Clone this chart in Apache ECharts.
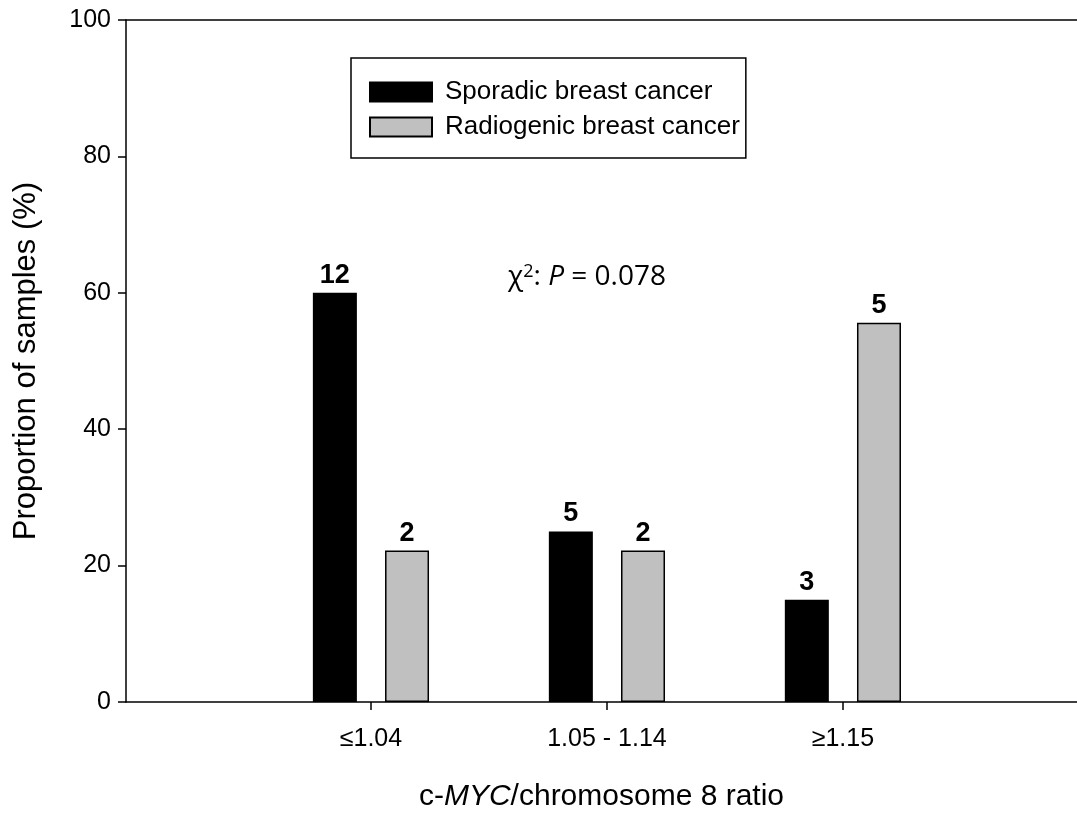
<!DOCTYPE html>
<html>
<head>
<meta charset="utf-8">
<script src="https://cdn.jsdelivr.net/npm/echarts@6/dist/echarts.min.js"></script>
<style>
  html, body { margin: 0; padding: 0; background: #fff; }
  #chart { width: 1077px; height: 814px; }
</style>
</head>
<body>
<div id="chart"></div>
<script>
// Ratio groups on the x axis (placed at positions 1, 2, 3)
const categories = ['\u22641.04', '1.05 - 1.14', '\u22651.15'];
const categoryPositions = [1, 2, 3];

// Proportion of samples (%) in each group
const sporadicPct = [60, 25, 15];
const radiogenicPct = [22.2, 22.2, 55.6];

// Sample counts written above the bars
const sporadicCounts = [12, 5, 3];
const radiogenicCounts = [2, 2, 5];

const yTicks = [0, 20, 40, 60, 80, 100];

const FONT = '"Liberation Sans", Arial, sans-serif';
const ANNOT_FONT = '"Open Sans", sans-serif';

function pairs(values) {
  return values.map((v, i) => [categoryPositions[i], v]);
}

const chart = echarts.init(document.getElementById('chart'), null, { renderer: 'canvas' });

const barLabel = (counts) => ({
  show: true,
  position: 'top',
  distance: 4,
  color: '#000',
  fontFamily: FONT,
  fontWeight: 'bold',
  fontSize: 27,
  formatter: (p) => String(counts[p.dataIndex])
});

const axisLineStyle = { color: '#000', width: 1.5 };

chart.setOption({
  animation: false,
  backgroundColor: '#fff',
  grid: { left: 126, right: 0, top: 20, bottom: 112, containLabel: false, outerBoundsMode: 'none' },
  legend: {
    orient: 'vertical',
    left: 351, top: 58,
    padding: [21, 6, 18, 18],
    itemWidth: 62, itemHeight: 19, itemGap: 9,
    borderColor: '#000', borderWidth: 1.5,
    icon: 'rect',
    textStyle: { fontFamily: FONT, fontSize: 26, color: '#000', padding: [0, 0, 0, 8] },
    data: ['Sporadic breast cancer', 'Radiogenic breast cancer']
  },
  xAxis: [{
    type: 'value',
    position: 'bottom',
    min: -0.038, max: 3.992,
    name: '{n|c-}{i|MYC}{n|/chromosome 8 ratio}',
    nameLocation: 'middle',
    nameGap: 80,
    nameTextStyle: {
      rich: {
        n: { fontFamily: FONT, fontSize: 30, color: '#000' },
        i: { fontFamily: FONT, fontSize: 30, color: '#000', fontStyle: 'italic' }
      }
    },
    axisLine: { show: true, onZero: false, lineStyle: axisLineStyle },
    axisTick: { show: true, customValues: categoryPositions, length: 8, lineStyle: axisLineStyle },
    axisLabel: {
      customValues: categoryPositions,
      formatter: (v) => categories[Math.round(v) - 1] || '',
      fontFamily: FONT, fontSize: 25, color: '#000', margin: 25
    },
    splitLine: { show: false }
  }, {
    // upper frame line
    type: 'value',
    position: 'top',
    min: -0.038, max: 3.992,
    axisLine: { show: true, onZero: false, lineStyle: axisLineStyle },
    axisTick: { show: false },
    axisLabel: { show: false },
    splitLine: { show: false }
  }],
  yAxis: {
    type: 'value',
    min: yTicks[0], max: yTicks[yTicks.length - 1], interval: 20,
    name: 'Proportion of samples (%)',
    nameLocation: 'middle',
    nameRotate: 90,
    nameGap: 84,
    nameTextStyle: { fontFamily: FONT, fontSize: 31, color: '#000' },
    axisLine: { show: true, onZero: false, lineStyle: axisLineStyle },
    axisTick: { show: true, inside: false, length: 8, lineStyle: axisLineStyle },
    axisLabel: { fontFamily: FONT, fontSize: 25, color: '#000', margin: 15 },
    splitLine: { show: false }
  },
  graphic: [{
    type: 'text',
    x: 508, y: 277,
    style: {
      text: '{a|\u03C7}{s|2}{a|: }{i|P}{a| = 0.078}',
      verticalAlign: 'middle',
      rich: {
        a: { fontFamily: ANNOT_FONT, fontSize: 28, fill: '#000', color: '#000' },
        i: { fontFamily: ANNOT_FONT, fontSize: 28, fontStyle: 'italic', fill: '#000', color: '#000' },
        s: { fontFamily: ANNOT_FONT, fontSize: 18, fill: '#000', color: '#000', verticalAlign: 'top' }
      }
    }
  }],
  series: [
    {
      name: 'Sporadic breast cancer',
      type: 'bar',
      xAxisIndex: 0,
      data: pairs(sporadicPct),
      barWidth: 44,
      barGap: '64%',
      itemStyle: { color: '#000', borderColor: '#000', borderWidth: 1.5 },
      label: barLabel(sporadicCounts)
    },
    {
      name: 'Radiogenic breast cancer',
      type: 'bar',
      xAxisIndex: 0,
      data: pairs(radiogenicPct),
      barWidth: 44,
      barGap: '64%',
      itemStyle: { color: '#c0c0c0', borderColor: '#000', borderWidth: 1.5 },
      label: barLabel(radiogenicCounts)
    }
  ]
});
</script>
</body>
</html>
